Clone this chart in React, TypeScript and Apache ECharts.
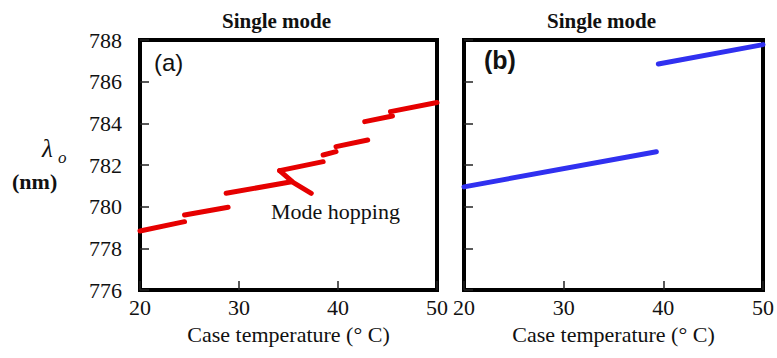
import React, { useEffect, useRef } from "react";
import * as echarts from "echarts";

const xTicks = [20, 30, 40, 50];
const yTicks = [776, 778, 780, 782, 784, 786, 788];

// Panel (a): red segments (case temperature °C, wavelength nm)
const redSeg1 = [[20, 778.83], [24.5, 779.28]];
const redSeg2 = [[24.5, 779.6], [28.9, 779.97]];
const redSeg3 = [[28.7, 780.64], [35.3, 781.2]];
const redPointer = [[34.1, 781.73], [35.5, 781.15], [37.3, 780.64]];
const redSeg4 = [[34.1, 781.73], [38.5, 782.16]];
const redSeg5 = [[38.5, 782.48], [39.8, 782.64]];
const redSeg6 = [[39.8, 782.88], [43.0, 783.2]];
const redSeg7 = [[42.7, 784.08], [45.5, 784.35]];
const redSeg8 = [[45.3, 784.56], [50, 785.0]];
const redSegments = [redSeg1, redSeg2, redSeg3, redPointer, redSeg4, redSeg5, redSeg6, redSeg7, redSeg8];

// Panel (b): blue segments
const blueSeg1 = [[20, 780.95], [39.3, 782.64]];
const blueSeg2 = [[39.5, 786.85], [50, 787.78]];
const blueSegments = [blueSeg1, blueSeg2];

const SERIF = "Times New Roman, Liberation Serif, DejaVu Serif, serif";
const SANS = "Arial, Liberation Sans, sans-serif";

export default function App() {
  const ref = useRef<HTMLDivElement>(null);
  useEffect(() => {
    if (!ref.current) return;
    const chart = echarts.init(ref.current, undefined, { renderer: "svg" });
    const gridCommon = { top: 40, height: 250, show: true, borderColor: "#000", borderWidth: 4, backgroundColor: "transparent" };
    const xAxisCommon = (gi: number) => ({
      type: "value",
      gridIndex: gi,
      min: xTicks[0],
      max: xTicks[xTicks.length - 1],
      interval: 10,
      splitLine: { show: false },
      axisLine: { show: false },
      axisTick: { show: true, inside: true, length: 9, lineStyle: { color: "#222", width: 1.5 } },
      axisLabel: { show: true, margin: 6, fontFamily: SERIF, fontSize: 22, color: "#111", showMinLabel: true, showMaxLabel: true },
      name: "Case temperature (° C)",
      nameLocation: "middle",
      nameGap: 44,
      nameTextStyle: { fontFamily: SERIF, fontSize: 22, color: "#111", verticalAlign: "middle" },
    });
    const yAxisCommon = (gi: number, labels: boolean) => ({
      type: "value",
      gridIndex: gi,
      min: yTicks[0],
      max: yTicks[yTicks.length - 1],
      interval: 2,
      splitLine: { show: false },
      axisLine: { show: false },
      axisTick: { show: true, inside: true, length: 9, lineStyle: { color: "#222", width: 1.5 } },
      axisLabel: { show: labels, margin: 18, fontFamily: SERIF, fontSize: 22, color: "#111" },
    });
    const mkSeries = (segs: number[][][], color: string, idx: number) =>
      segs.map((d) => ({
        type: "line",
        xAxisIndex: idx,
        yAxisIndex: idx,
        data: d,
        showSymbol: false,
        symbol: "none",
        lineStyle: { color, width: 5, cap: "round", join: "round" },
        silent: true,
      }));
    chart.setOption({
      animation: false,
      grid: [
        { ...gridCommon, left: 140, width: 297 },
        { ...gridCommon, left: 464, width: 299 },
      ],
      xAxis: [xAxisCommon(0), xAxisCommon(1)],
      yAxis: [yAxisCommon(0, true), yAxisCommon(1, false)],
      series: [...mkSeries(redSegments, "#e60000", 0), ...mkSeries(blueSegments, "#3030f0", 1)],
      graphic: [
        { type: "text", left: 222, top: 10, style: { text: "Single mode", fontFamily: SERIF, fontWeight: "bold", fontSize: 21, fill: "#111" } },
        { type: "text", left: 547, top: 10, style: { text: "Single mode", fontFamily: SERIF, fontWeight: "bold", fontSize: 21, fill: "#111" } },
        { type: "text", left: 154, top: 50, style: { text: "(a)", fontFamily: SANS, fontSize: 24, fill: "#111" } },
        { type: "text", left: 484, top: 47, style: { text: "(b)", fontFamily: SANS, fontWeight: "bold", fontSize: 25, fill: "#111" } },
        { type: "text", left: 271, top: 200, style: { text: "Mode hopping", fontFamily: SERIF, fontSize: 22, fill: "#111" } },
        { type: "text", left: 42, top: 136, style: { text: "λ", fontFamily: SERIF, fontStyle: "italic", fontSize: 25, fill: "#111" } },
        { type: "text", left: 58, top: 149, style: { text: "o", fontFamily: SERIF, fontStyle: "italic", fontSize: 17, fill: "#111" } },
        { type: "text", left: 12, top: 170, style: { text: "(nm)", fontFamily: SERIF, fontWeight: "bold", fontSize: 22, fill: "#111" } },
      ],
    });
    return () => chart.dispose();
  }, []);
  return <div ref={ref} style={{ position: "fixed", left: 0, top: 0, width: 777, height: 358, background: "#fff" }} />;
}
